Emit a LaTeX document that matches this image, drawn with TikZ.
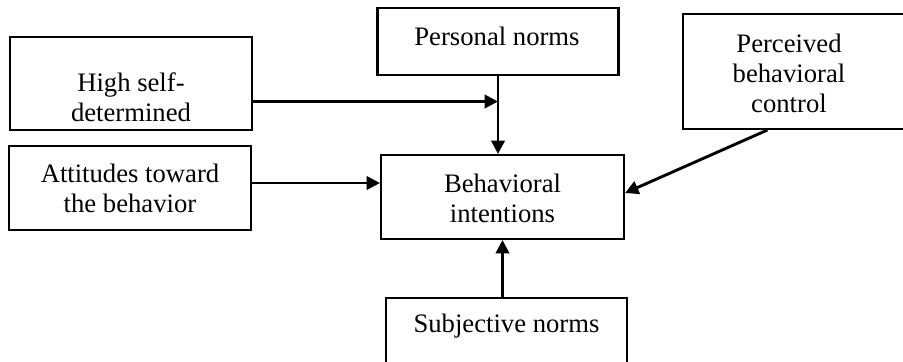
\documentclass[tikz,border=0pt]{standalone}
\usepackage{fontspec}
\setmainfont{Liberation Serif}
\usetikzlibrary{arrows.meta}
\newcommand{\px}{0.45pt}

\begin{document}
\begin{tikzpicture}[x=0.45pt, y=-0.45pt,
	box/.style={draw, line width=0.95pt, inner sep=0pt},
	txt/.style={align=center, inner sep=0pt, font=\fontsize{12}{13.5}\selectfont},
	arr/.style={line width=1.3pt, -{Triangle[length=6pt,width=6pt]}}]
	\clip (0,0) rectangle (903,362);

	% boxes
	\node[box, minimum width=242*\px, minimum height=93*\px] (selfdet) at (131,83.5) {};
	\node[box, minimum width=242*\px, minimum height=84*\px] (att) at (130,188) {};
	\node[box, minimum width=241*\px, minimum height=67*\px] (personal) at (498,41.5) {};
	\node[box, minimum width=243*\px, minimum height=84*\px] (behav) at (502.5,197) {};
	\node[box, minimum width=222*\px, minimum height=115*\px] (perc) at (794,71.5) {};
	\node[box, minimum width=241*\px, minimum height=92*\px] (subj) at (506.5,344) {};

	% texts
	\node[txt] (selfdet-t) at (131,97) {High self-\\determined};
	\node[txt] (att-t) at (130,188) {Attitudes toward\\the behavior};
	\node[txt] (personal-t) at (497,36) {Personal norms};
	\node[txt] (behav-t) at (502.5,198) {Behavioral\\intentions};
	\node[txt] (perc-t) at (789,73) {Perceived\\behavioral\\control};
	\node[txt] (subj-t) at (506.5,326) {Subjective norms};

	% arrows
	\coordinate (join) at (498,101.5);
	\draw[arr] (selfdet.east |- join) -- (join);
	\draw[arr] (personal.south) -- (personal.south |- behav.north);
	\coordinate (attout) at ([yshift=2.25pt]att.east);
	\draw[arr] (attout) -- (attout -| behav.west);
	\draw[arr] ([xshift=-12pt]perc.south) -- ([yshift=1.8pt]behav.east);
	\draw[arr] (subj.north -| behav.south) -- (behav.south);
\end{tikzpicture}
\end{document}
